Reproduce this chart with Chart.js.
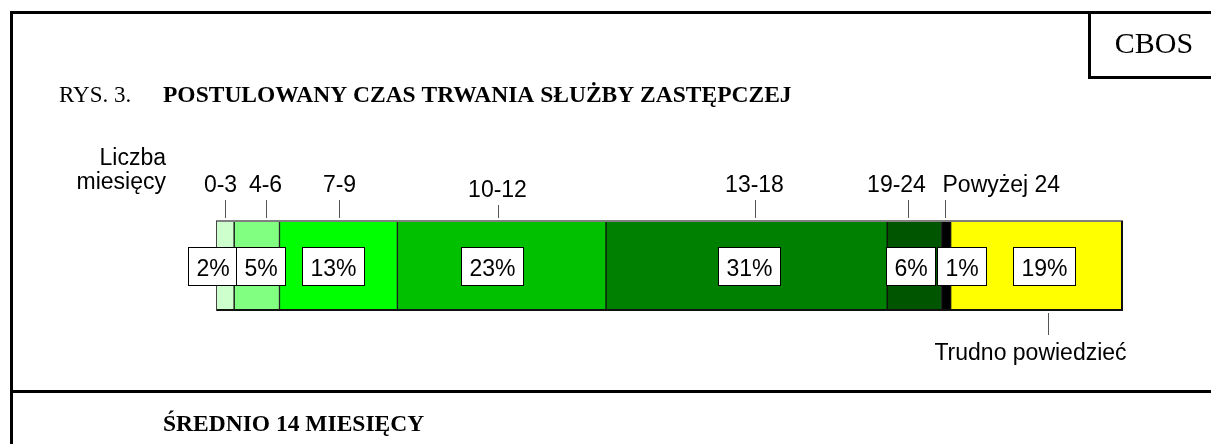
<!DOCTYPE html>
<html lang="pl">
<head>
<meta charset="utf-8">
<title>Postulowany czas trwania służby zastępczej</title>
<script src="https://cdn.jsdelivr.net/npm/chart.js@4.4.1/dist/chart.umd.min.js"></script>
<style>
  html, body { margin: 0; padding: 0; background: #fff; }
  canvas { display: block; }
</style>
</head>
<body>
<canvas id="wykres" width="1211" height="444"></canvas>
<script>
// dane
var kategorie = ["0-3", "4-6", "7-9", "10-12", "13-18", "19-24", "Powyżej 24", "Trudno powiedzieć"];
var procenty = [2, 5, 13, 23, 31, 6, 1, 19];
var kolory = ["#ccffcc", "#80ff80", "#00ff00", "#00c000", "#008000", "#005500", "#000000", "#ffff00"];

var tytulNr = "RYS. 3.";
var tytul = "POSTULOWANY CZAS TRWANIA SŁUŻBY ZASTĘPCZEJ";
var podpis = "ŚREDNIO 14 MIESIĘCY";
var etykietaOsi = ["Liczba", "miesięcy"];

// przesunięcia etykiet (w oryginale ustawione ręcznie)
var przesuniecieKreski = [0, 9, 1, -4, 8, -6, -1, 11];
var przesuniecieTekstu = [-5, -1, 0, -1, -1, -12, -3, -18];
var obnizenieTekstu = [0, 0, 0, 5, 0, 0, 0, 0];
var przesuniecieRamki = [-13, 4, -5, -10, 2, -4, 15, 7];

var czcionka = "'Liberation Sans', Arial, sans-serif";
var szeryf = "'Liberation Serif', 'Times New Roman', serif";

var zestawy = kategorie.map(function (k, i) {
    return {
        label: k,
        data: [procenty[i]],
        backgroundColor: kolory[i],
        borderColor: "#111",
        borderWidth: { left: 1, right: 1, top: 0, bottom: 0 },
        borderSkipped: false,
        barPercentage: 1,
        categoryPercentage: 1
    };
});

// ramka, tytuły, etykiety i kreski
var rysunek = {
    id: "rysunek",
    beforeDraw: function (chart) {
        var ctx = chart.ctx;
        ctx.save();
        ctx.fillStyle = "#fff";
        ctx.fillRect(0, 0, chart.width, chart.height);
        ctx.restore();
    },
    afterDatasetsDraw: function (chart) {
        var ctx = chart.ctx;
        var x = chart.scales.x;
        var y = chart.scales.y;
        var area = chart.chartArea;
        var srodekY = y.getPixelForValue(0);
        ctx.save();

        // obrys paska: góra szara, dół i prawa strona czarne
        ctx.lineWidth = 2;
        ctx.strokeStyle = "#808080";
        ctx.beginPath();
        ctx.moveTo(area.left, area.top);
        ctx.lineTo(area.right, area.top);
        ctx.stroke();
        ctx.strokeStyle = "#111";
        ctx.beginPath();
        ctx.moveTo(area.left, area.bottom - 1);
        ctx.lineTo(area.right - 1, area.bottom - 1);
        ctx.lineTo(area.right - 1, area.top);
        ctx.stroke();
        ctx.lineWidth = 1;
        ctx.strokeStyle = "#444";
        ctx.beginPath();
        ctx.moveTo(area.left + 0.5, area.top);
        ctx.lineTo(area.left + 0.5, area.bottom);
        ctx.stroke();

        // ramka strony
        ctx.strokeStyle = "#000";
        ctx.lineWidth = 3;
        ctx.beginPath();
        ctx.moveTo(11.5, chart.height);
        ctx.lineTo(11.5, 12.5);
        ctx.lineTo(chart.width, 12.5);
        ctx.moveTo(10, 391.5);
        ctx.lineTo(chart.width, 391.5);
        ctx.moveTo(1089.5, 12);
        ctx.lineTo(1089.5, 77.5);
        ctx.lineTo(chart.width, 77.5);
        ctx.stroke();

        ctx.fillStyle = "#000";
        ctx.textBaseline = "alphabetic";
        ctx.font = "30px " + szeryf;
        ctx.textAlign = "center";
        ctx.fillText("CBOS", 1154, 53);

        ctx.textAlign = "left";
        ctx.font = "23px " + szeryf;
        ctx.fillText(tytulNr, 59, 102);
        ctx.font = "bold 23.5px " + szeryf;
        ctx.fillText(tytul, 163, 102);
        ctx.fillText(podpis, 163, 431);

        ctx.font = "23px " + czcionka;
        ctx.textAlign = "right";
        ctx.fillText(etykietaOsi[0], 166, 165);
        ctx.fillText(etykietaOsi[1], 166, 189);

        var suma = 0;
        procenty.forEach(function (v, i) {
            var x0 = x.getPixelForValue(suma);
            var x1 = x.getPixelForValue(suma + v);
            suma += v;
            var sr = (x0 + x1) / 2;
            var kx = Math.round(sr + przesuniecieKreski[i]) + 0.5;

            // etykieta kategorii z kreską
            ctx.strokeStyle = "#555";
            ctx.lineWidth = 1;
            ctx.fillStyle = "#000";
            ctx.font = "23px " + czcionka;
            if (i === kategorie.length - 1) {
                ctx.beginPath();
                ctx.moveTo(kx, area.bottom + 2);
                ctx.lineTo(kx, area.bottom + 24);
                ctx.stroke();
                ctx.textAlign = "center";
                ctx.fillText(kategorie[i], kx + przesuniecieTekstu[i], area.bottom + 49);
            } else {
                var bazowa = 192 + obnizenieTekstu[i];
                ctx.beginPath();
                ctx.moveTo(kx, bazowa + 8);
                ctx.lineTo(kx, area.top - 3);
                ctx.stroke();
                ctx.textAlign = i === 6 ? "left" : "center";
                ctx.fillText(kategorie[i], kx + przesuniecieTekstu[i], bazowa);
            }

            // ramka z procentem
            var tekst = v + "%";
            var w = Math.round(ctx.measureText(tekst).width) + 16;
            var h = 38;
            var bx = Math.round(sr + przesuniecieRamki[i] - w / 2) + 0.5;
            var by = Math.round(srodekY - h / 2) + 0.5;
            ctx.fillStyle = "#fff";
            ctx.fillRect(bx, by, w, h);
            ctx.strokeStyle = "#000";
            ctx.strokeRect(bx, by, w, h);
            ctx.fillStyle = "#000";
            ctx.textAlign = "center";
            ctx.fillText(tekst, bx + w / 2, by + 28);
        });

        ctx.restore();
    }
};

var ctx = document.getElementById("wykres").getContext("2d");
var chart = new Chart(ctx, {
    type: "bar",
    data: {
        labels: ["Czas"],
        datasets: zestawy
    },
    options: {
        indexAxis: "y",
        responsive: false,
        devicePixelRatio: 1,
        animation: false,
        layout: { padding: { left: 216, right: 88, top: 221, bottom: 133 } },
        scales: {
            x: { type: "linear", min: 0, max: 100, stacked: true, display: false },
            y: { stacked: true, display: false }
        },
        plugins: {
            legend: { display: false },
            tooltip: { enabled: false }
        }
    },
    plugins: [rysunek]
});
</script>
</body>
</html>
